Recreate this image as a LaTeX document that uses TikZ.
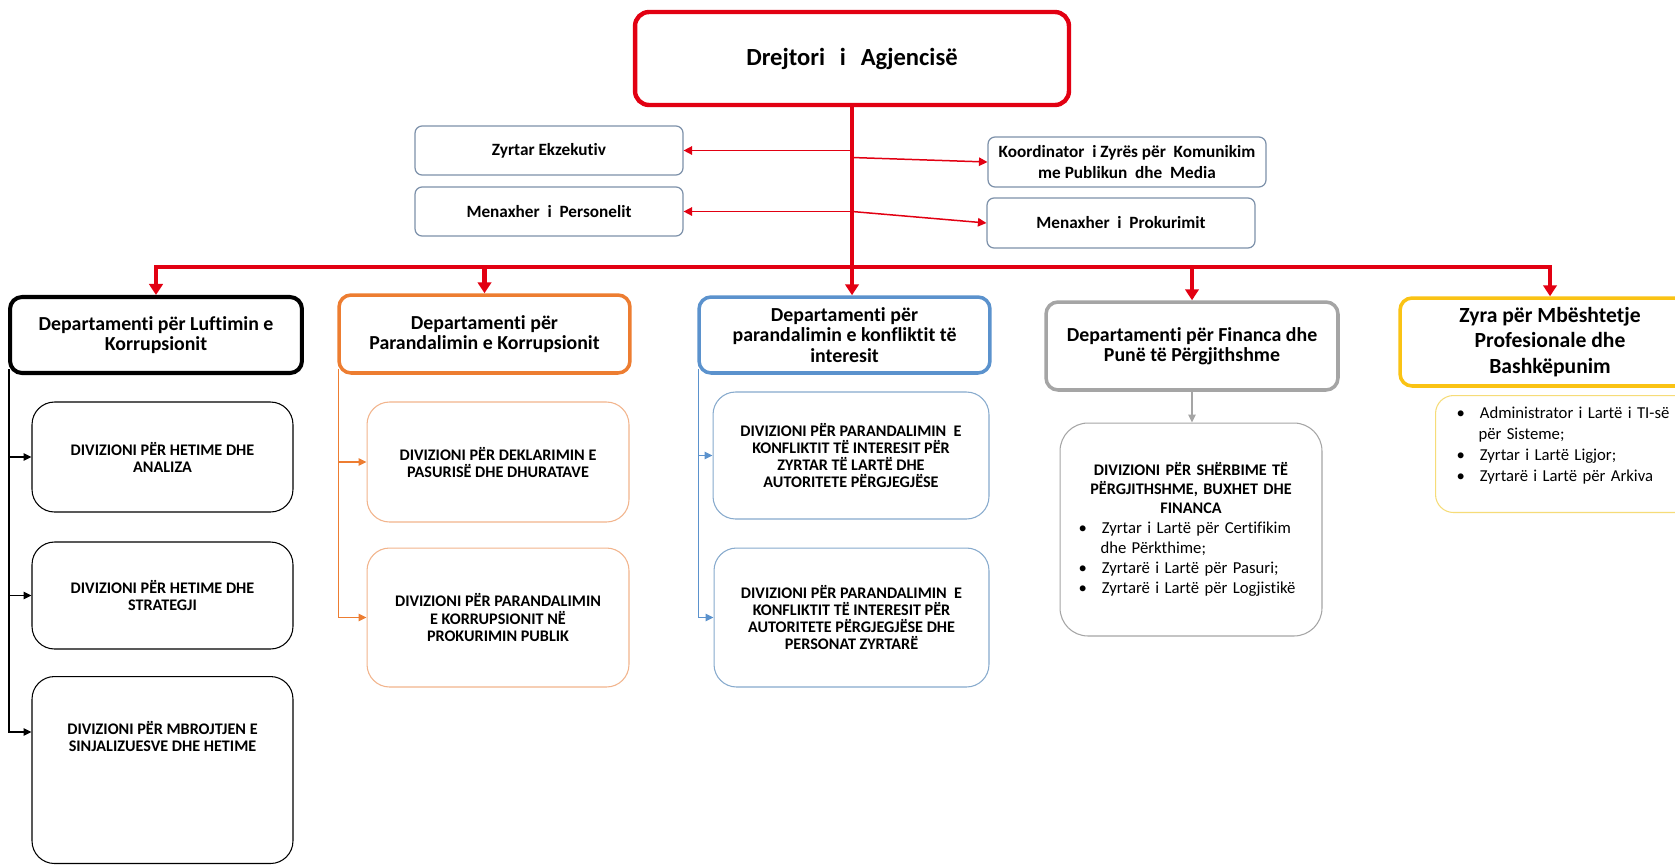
\documentclass[tikz,border=0pt]{standalone}
\usepackage{fontspec}
\setmainfont{Carlito}[Ligatures=NoCommon]
\usepackage{xcolor}
\usepackage{tikz}
\usetikzlibrary{calc,positioning,arrows.meta,backgrounds}

\definecolor{agred}{RGB}{226,0,18}
\definecolor{deporange}{RGB}{237,125,49}
\definecolor{depblue}{RGB}{91,146,205}
\definecolor{depgrey}{RGB}{165,165,165}
\definecolor{depyellow}{RGB}{250,195,20}
\definecolor{lightorange}{RGB}{242,180,140}
\definecolor{lightblue}{RGB}{135,170,205}
\definecolor{lightyellow}{RGB}{246,220,120}
\definecolor{slate}{RGB}{125,145,170}

\newenvironment{bulletlist}[1][11.3pt]{%
  \begin{list}{\textbullet}{%
    \setlength{\leftmargin}{0.44cm}\setlength{\labelsep}{0.3cm}%
    \setlength{\labelwidth}{0.14cm}\setlength{\itemsep}{0pt}%
    \setlength{\parsep}{0pt}\setlength{\topsep}{0pt}\setlength{\partopsep}{0pt}}%
  \raggedright\setlength{\parindent}{0pt}\normalfont\fontsize{9.5}{#1}\selectfont}{\end{list}}

\begin{document}
\begin{tikzpicture}[x=0.02cm, y=-0.02cm, align=center,
    head/.style={draw=agred, line width=2.5pt, rounded corners=0.28cm, fill=white,
        font=\fontsize{14}{17}\selectfont\bfseries},
    staff/.style={draw=slate, line width=0.7pt, rounded corners=0.14cm, fill=white,
        font=\fontsize{9.8}{11.9}\selectfont\bfseries},
    dept/.style={line width=2pt, rounded corners=0.24cm, fill=white,
        font=\fontsize{11.3}{11.6}\selectfont\bfseries},
    division/.style={line width=0.6pt, rounded corners=0.45cm, fill=white,
        font=\fontsize{9.2}{9.7}\selectfont\bfseries},
    bus/.style={draw=agred, line width=2.3pt},
    busarrow/.style={bus, -{Triangle[width=0.27cm,length=0.22cm]}},
    staffarrow/.style={draw=agred, fill=agred, line width=0.85pt, -{Triangle[width=0.17cm,length=0.17cm]}},
    branch/.style={line width=0.7pt, -{Triangle[width=0.15cm,length=0.16cm]}},
]
    \useasboundingbox (0,0) rectangle (1675,866);
    \clip (0,0) rectangle (1675,866);

    \node [head, minimum width=8.68cm, minimum height=1.86cm] (director) at (852,58.5) {Drejtori\hspace{0.6em}i\hspace{0.6em}Agjencisë};

    \node [staff, minimum width=5.36cm, minimum height=0.98cm] (exec) at (549,150.5) {Zyrtar Ekzekutiv};
    \node [staff, minimum width=5.36cm, minimum height=0.98cm] (hr) at (549,211.5) {Menaxher\ \ i\ \ Personelit};
    \node [staff, minimum width=5.56cm, minimum height=1cm] (media) at (1127,162) {Koordinator\ \ i Zyrës për\ \ Komunikim\\me Publikun\ \ dhe\ \ Media};
    \node [staff, minimum width=5.36cm, minimum height=1cm] (procure) at (1121,223) {Menaxher\ \ i\ \ Prokurimit};

    \node [dept, draw=black, line width=2.3pt, minimum width=5.84cm, minimum height=1.52cm] (dep1) at (156,335) {Departamenti për Luftimin e\\Korrupsionit};
    \node [dept, draw=deporange, minimum width=5.82cm, minimum height=1.56cm] (dep2) at (484.5,334) {Departamenti për\\Parandalimin e Korrupsionit};
    \node [dept, draw=depblue, minimum width=5.82cm, minimum height=1.52cm] (dep3) at (844.5,335) {Departamenti për\\parandalimin e konfliktit të\\interesit};
    \node [dept, draw=depgrey, minimum width=5.84cm, minimum height=1.76cm] (dep4) at (1192,346) {Departamenti për Financa dhe\\Punë të Përgjithshme};
    \node [dept, draw=depyellow, font=\fontsize{12.3}{14.4}\selectfont\bfseries, minimum width=6cm, minimum height=1.76cm] (dep5) at (1550,342) {Zyra për Mbështetje\\Profesionale dhe\\Bashkëpunim};

    \node [division, draw=black, minimum width=5.22cm, minimum height=2.2cm] (d1a) at (162.5,457) {DIVIZIONI PËR HETIME DHE\\ANALIZA};
    \node [division, draw=black, minimum width=5.22cm, minimum height=2.14cm] (d1b) at (162.5,595.5) {DIVIZIONI PËR HETIME DHE\\STRATEGJI};
    \node [division, draw=black, anchor=north, minimum width=5.22cm, inner ysep=0pt, text height=1.5cm, text depth=2.24cm] (d1c) at (162.5,676) {DIVIZIONI PËR MBROJTJEN E\\SINJALIZUESVE DHE HETIME};

    \node [division, draw=lightorange, minimum width=5.24cm, minimum height=2.4cm] (d2a) at (498,462) {DIVIZIONI PËR DEKLARIMIN E\\PASURISË DHE DHURATAVE};
    \node [division, draw=lightorange, minimum width=5.24cm, minimum height=2.78cm] (d2b) at (498,617.5) {DIVIZIONI PËR PARANDALIMIN\\E KORRUPSIONIT NË\\PROKURIMIN PUBLIK};

    \node [division, draw=lightblue, minimum width=5.52cm, minimum height=2.54cm] (d3a) at (851,455.5) {DIVIZIONI PËR PARANDALIMIN\ \ E\\KONFLIKTIT TË INTERESIT PËR\\ZYRTAR TË LARTË DHE\\AUTORITETE PËRGJEGJËSE};
    \node [division, draw=lightblue, minimum width=5.5cm, minimum height=2.78cm] (d3b) at (851.5,617.5) {DIVIZIONI PËR PARANDALIMIN\ \ E\\KONFLIKTIT TË INTERESIT PËR\\AUTORITETE PËRGJEGJËSE DHE\\PERSONAT ZYRTARË};

    \node [division, draw=depgrey, rounded corners=0.56cm, font=\fontsize{9.2}{10.8}\selectfont\bfseries, minimum width=5.24cm, minimum height=4.26cm, text width=4.5cm] (d4a) at (1191,529.5) {DIVIZIONI PËR SHËRBIME TË\\PËRGJITHSHME, BUXHET DHE\\FINANCA
        \begin{bulletlist}
            \item Zyrtar i Lartë për Certifikim\newline dhe Përkthime;
            \item Zyrtarë i Lartë për Pasuri;
            \item Zyrtarë i Lartë për Logjistikë
        \end{bulletlist}};
    \node [division, draw=lightyellow, rounded corners=0.36cm, anchor=north west, inner xsep=0.42cm, inner ysep=0pt, text width=4.9cm, text height=0.04cm, text depth=2.3cm] (d5a) at (1435,395) {%
        \begin{bulletlist}[12pt]
            \item Administrator i Lartë i TI-së\newline për Sisteme;
            \item Zyrtar i Lartë Ligjor;
            \item Zyrtarë i Lartë për Arkiva
        \end{bulletlist}};

    % director to staff
    \coordinate (t1) at (director.south |- exec.east);
    \coordinate (t2) at ($(t1)+(0,7)$);
    \coordinate (t3) at (director.south |- hr.east);
    \draw[staffarrow] (t1) -- (exec);
    \draw[staffarrow] (t3) -- (hr);
    \draw[staffarrow] (t2) -- (media.west);
    \draw[staffarrow] (t3) -- (procure.west);

    % director to departments
    \coordinate (bus) at (852,267);
    \draw[busarrow] (director.south) -- (director.south |- dep3.north);
    \draw[busarrow] (bus) -| (dep1.north);
    \draw[busarrow] (bus) -| (dep5.north);
    \foreach \d in {dep2,dep4}
        \draw[busarrow] (bus -| \d.north) -- (\d.north);

    \begin{scope}[on background layer]
        \fill[white] (0,0) rectangle (1675,866);
        \coordinate (s1) at ($(dep1.south west)+(1,-6)$);
        \coordinate (s2) at ($(dep2.south west)+(1,-6)$);
        \coordinate (s3) at ($(dep3.south west)+(1,-6)$);
        \draw[branch, black] (s1) |- ($(d1c.north west)+(0,56)$);
        \draw[branch, black] (s1 |- d1a) -- (d1a.west);
        \draw[branch, black] (s1 |- d1b) -- (d1b.west);
        \draw[branch, deporange] (s2) |- (d2b.west);
        \draw[branch, deporange] (s2 |- d2a) -- (d2a.west);
        \draw[branch, depblue] (s3) |- (d3b.west);
        \draw[branch, depblue] (s3 |- d3a) -- (d3a.west);
        \draw[branch, depgrey] (dep4.south) -- (dep4.south |- d4a.north);
    \end{scope}
\end{tikzpicture}
\end{document}
